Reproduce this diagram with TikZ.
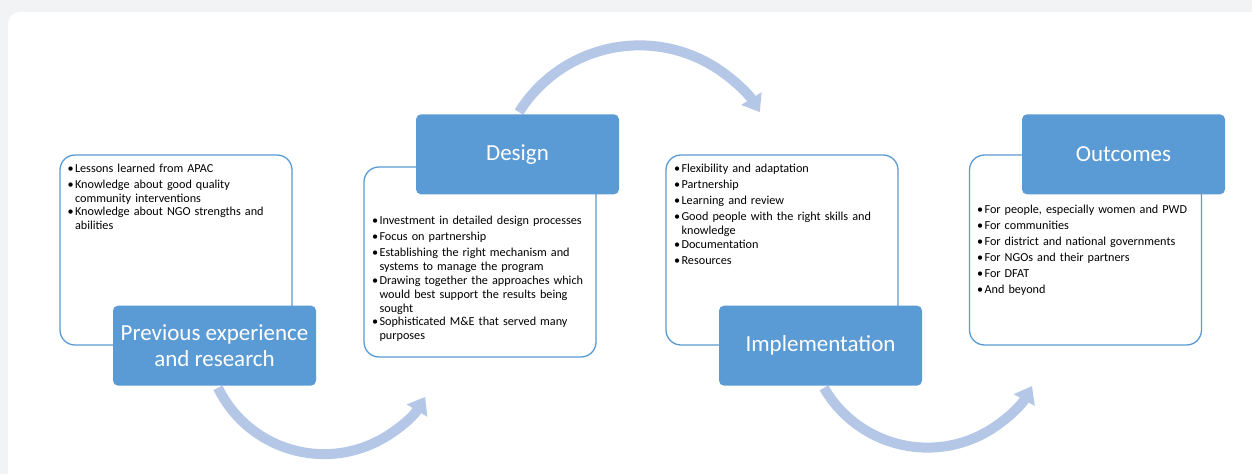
\documentclass[tikz,border=0pt]{standalone}
\usepackage{fontspec}
\setmainfont{Carlito}
\usetikzlibrary{arrows.meta,backgrounds,positioning}
\definecolor{headblue}{RGB}{91,155,213}
\definecolor{arrowblue}{RGB}{180,199,231}
\definecolor{pagegray}{RGB}{242,243,245}
\newcommand{\bitem}[1]{\par\setlength\parskip{2pt}\noindent\makebox[7.5pt][l]{\textbullet}\parbox[t]{225pt}{#1}}

\begin{document}
\begin{tikzpicture}[x=1pt,y=1pt,
  panel/.style={draw=headblue,line width=1.3pt,rounded corners=15pt,fill=white,minimum width=232pt,minimum height=190pt},
  header/.style={fill=headblue,rounded corners=5pt,minimum width=203pt,minimum height=80pt,text=white,align=center,font=\fontsize{23}{26}\selectfont},
  items/.style={anchor=north west,text width=235pt,inner sep=0pt,font=\fontsize{12.2}{14}\selectfont},
  cyclearrow/.style={draw=arrowblue,line width=10pt,-{Triangle[width=23pt,length=16pt]}}]
\useasboundingbox (0,0) rectangle (1252,474);
% panels
\node[panel] (p1) at (176,224) {};
\node[panel] (p2) at (480,212) {};
\node[panel] (p3) at (782,224) {};
\node[panel] (p4) at (1085.5,224) {};
% headers
\node[header] (h1) at ([xshift=38.5pt]p1.south) {Previous experience\\and research};
\node[header] (h2) at ([xshift=37.5pt,yshift=12pt]p2.north) {Design};
\node[header] (h3) at ([xshift=38.5pt]p3.south) {Implementation};
\node[header] (h4) at ([xshift=38pt]p4.north) {Outcomes};
% bullet lists
\node[items] (t1) at ([xshift=8pt,yshift=-2pt]p1.north west) {%
  \bitem{Lessons learned from APAC}
  \bitem{Knowledge about good quality\newline community interventions}
  \bitem{Knowledge about NGO strengths and\newline abilities}};
\node[items] (t2) at ([xshift=8.5pt,yshift=-42pt]p2.north west) {%
  \bitem{Investment in detailed design processes}
  \bitem{Focus on partnership}
  \bitem{Establishing the right mechanism and\newline systems to manage the program}
  \bitem{Drawing together the approaches which\newline would best support the results being\newline sought}
  \bitem{Sophisticated M\&E that served many\newline purposes}};
\node[items] (t3) at ([xshift=8.5pt,yshift=-2pt]p3.north west) {%
  \bitem{Flexibility and adaptation}
  \bitem{Partnership}
  \bitem{Learning and review}
  \bitem{Good people with the right skills and\newline knowledge}
  \bitem{Documentation}
  \bitem{Resources}};
\node[items] (t4) at ([xshift=8pt,yshift=-43pt]p4.north west) {%
  \bitem{For people, especially women and PWD}
  \bitem{For communities}
  \bitem{For district and national governments}
  \bitem{For NGOs and their partners}
  \bitem{For DFAT}
  \bitem{And beyond}};
\begin{scope}[on background layer]
\fill[pagegray] (0,0) rectangle (1252,474);
\fill[white,rounded corners=12pt] (8,-20) rectangle (1270,462);
% cycle arrows
\coordinate (a1) at ([xshift=3.5pt,yshift=-2pt]h1.south);
\coordinate (a2) at ([xshift=1.5pt,yshift=2pt]h2.north);
\coordinate (a3) at ([xshift=3.5pt,yshift=-2pt]h3.south);
\draw[cyclearrow] (a1) arc[start angle=206,end angle=329,radius=118];
\draw[cyclearrow] (a2) arc[start angle=148,end angle=32,radius=142];
\draw[cyclearrow] (a3) arc[start angle=210,end angle=331,radius=119.5];
\end{scope}
\end{tikzpicture}
\end{document}
